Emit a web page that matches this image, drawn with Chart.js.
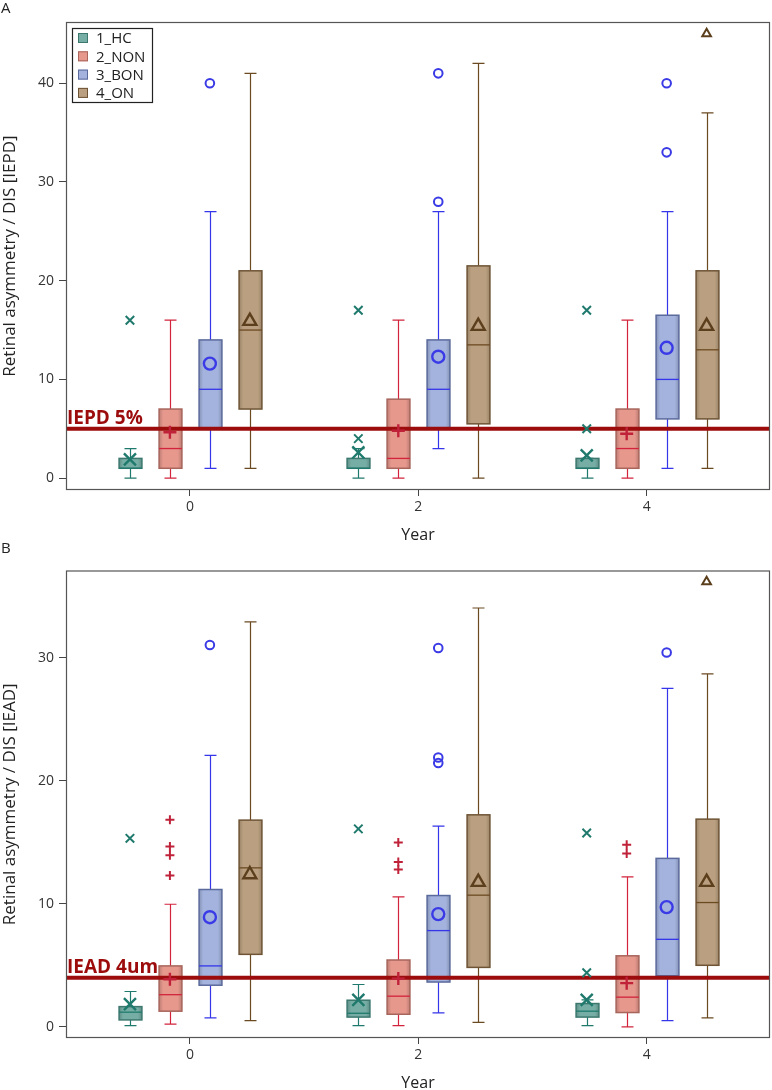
<!DOCTYPE html>
<html>
<head>
<meta charset="utf-8">
<script src="https://cdn.jsdelivr.net/npm/chart.js@4.4.1/dist/chart.umd.min.js"></script>
<style>
  body { margin: 0; background: #fff; font-family: "Open Sans", sans-serif; }
  #page { position: relative; width: 772px; height: 1090px; overflow: hidden; }
  .panel { position: absolute; left: 0; width: 772px; height: 545px; }
  .tag { position: absolute; left: 1px; font-size: 15px; color: #222; }
</style>
</head>
<body>
<div id="page">
  <div class="panel" style="top:0"><canvas id="chartA" width="772" height="545"></canvas></div>
  <div class="panel" style="top:545px"><canvas id="chartB" width="772" height="545"></canvas></div>
  <div class="tag" style="top:-3px">A</div>
  <div class="tag" style="top:537px">B</div>
</div>
<script>
const years = [0, 2, 4];
const groups = ['1_HC', '2_NON', '3_BON', '4_ON'];
const yTicksA = [0, 10, 20, 30, 40];
const yTicksB = [0, 10, 20, 30];

// Panel A - IEPD. one row per group, one value per year
const iepdLow    = [[0, 0, 0], [0, 0, 0], [1, 3, 1], [1, 0, 1]];
const iepdQ1     = [[1, 1, 1], [1, 1, 1], [5, 5, 6], [7, 5.5, 6]];
const iepdMedian = [[1, 1, 1], [3, 2, 3], [9, 9, 10], [15, 13.5, 13]];
const iepdQ3     = [[2, 2, 2], [7, 8, 7], [14, 14, 16.5], [21, 21.5, 21]];
const iepdHigh   = [[3, 3, 2], [16, 16, 16], [27, 27, 27], [41, 42, 37]];
const iepdMean   = [[1.9, 2.6, 2.3], [4.65, 4.8, 4.5], [11.6, 12.3, 13.2], [15.9, 15.4, 15.4]];
const iepdOutliers = [
  [[16], [17, 4], [17, 5]],
  [[], [], []],
  [[40], [41, 28], [40, 33]],
  [[], [], [45]]
];

// Panel B - IEAD
const ieadLow    = [[0.1, 0.1, 0.1], [0.23, 0.1, 0], [0.74, 1.14, 0.51], [0.51, 0.37, 0.74]];
const ieadQ1     = [[0.57, 0.8, 0.8], [1.28, 1.03, 1.17], [3.39, 3.65, 4.16], [5.9, 4.84, 5.01]];
const ieadMedian = [[1.2, 1.11, 1.28], [2.62, 2.5, 2.42], [4.96, 7.83, 7.12], [12.93, 10.71, 10.11]];
const ieadQ3     = [[1.65, 2.17, 1.9], [4.96, 5.44, 5.78], [11.17, 10.68, 13.7], [16.81, 17.24, 16.89]];
const ieadHigh   = [[2.88, 3.45, 2.2], [9.97, 10.57, 12.19], [22.08, 16.32, 27.52], [32.93, 34.05, 28.69]];
const ieadMean   = [[1.85, 2.2, 2.2], [3.87, 3.93, 3.56], [8.92, 9.17, 9.74], [12.39, 11.77, 11.77]];
const ieadOutliers = [
  [[15.33], [16.1], [15.76, 4.4]],
  [[16.84, 14.67, 13.96, 12.3], [14.99, 13.4, 12.8], [14.8, 14.1]],
  [[31.05], [30.8, 21.9, 21.45], [30.43]],
  [[], [], [36.18]]
];

// look
const fills = ['#76aea5', '#e6988d', '#a3b3dd', '#baa080'];
const edges = ['#3d786f', '#a7655c', '#5b6a9c', '#6e5435'];
const inks = ['#1f7a6d', '#d2243c', '#3535ea', '#6b4a22'];
const markInk = ['#1f7a6d', '#c0223a', '#3a3ae6', '#5c3f1c'];
const marker = ['crossRot', 'cross', 'circle', 'triangle'];
const meanR = [8.5, 6.5, 6, 7.5];
const outR = [6, 4.5, 4.3, 5];
const shift = [-0.525, -0.175, 0.175, 0.525];
const boxW = 0.2, capW = 0.105;

function shade(hex, f) {
  const n = parseInt(hex.slice(1), 16);
  const c = [n >> 16, (n >> 8) & 255, n & 255].map(v => Math.round(v * f));
  return `rgb(${c.join(',')})`;
}

function boxPlugin(st, ref, withLegend) {
  return {
    id: 'boxes',
    beforeDatasetsDraw(chart) {
      const { ctx, scales: { x, y }, chartArea: a } = chart;
      const unit = x.getPixelForValue(1) - x.getPixelForValue(0);
      ctx.save();
      groups.forEach((g, gi) => {
        years.forEach((yr, i) => {
          const cx = Math.round(x.getPixelForValue(yr + shift[gi])) + 0.5;
          const hw = boxW * unit / 2, cw = capW * unit / 2;
          const pl = y.getPixelForValue(st.low[gi][i]);
          const p1 = y.getPixelForValue(st.q1[gi][i]);
          const pm = y.getPixelForValue(st.med[gi][i]);
          const p3 = y.getPixelForValue(st.q3[gi][i]);
          const ph = y.getPixelForValue(st.high[gi][i]);
          ctx.strokeStyle = inks[gi];
          ctx.lineWidth = 1.2;
          ctx.beginPath();
          ctx.moveTo(cx, pl); ctx.lineTo(cx, p1);
          ctx.moveTo(cx, p3); ctx.lineTo(cx, ph);
          ctx.moveTo(cx - cw, pl); ctx.lineTo(cx + cw, pl);
          ctx.moveTo(cx - cw, ph); ctx.lineTo(cx + cw, ph);
          ctx.stroke();
          const grad = ctx.createLinearGradient(cx - hw, 0, cx + hw, 0);
          grad.addColorStop(0, shade(fills[gi], 0.82));
          grad.addColorStop(0.18, fills[gi]);
          grad.addColorStop(0.82, fills[gi]);
          grad.addColorStop(1, shade(fills[gi], 0.82));
          ctx.fillStyle = grad;
          ctx.fillRect(cx - hw, p3, hw * 2, p1 - p3);
          ctx.strokeStyle = edges[gi];
          ctx.lineWidth = 1.5;
          ctx.strokeRect(cx - hw, p3, hw * 2, p1 - p3);
          ctx.strokeStyle = inks[gi];
          ctx.lineWidth = 1.3;
          ctx.beginPath();
          ctx.moveTo(cx - hw, pm); ctx.lineTo(cx + hw, pm);
          ctx.stroke();
        });
      });
      // reference line
      const ry = y.getPixelForValue(ref.value);
      ctx.strokeStyle = '#9c0c0c';
      ctx.lineWidth = 4;
      ctx.beginPath();
      ctx.moveTo(a.left, ry); ctx.lineTo(a.right, ry);
      ctx.stroke();
      ctx.fillStyle = '#9c0c0c';
      ctx.font = 'bold 19px "Open Sans"';
      ctx.textBaseline = 'alphabetic';
      ctx.fillText(ref.label, a.left + 1, ry - 5);
      ctx.restore();
    },
    afterDraw(chart) {
      const { ctx, chartArea: a } = chart;
      ctx.save();
      ctx.strokeStyle = '#555';
      ctx.lineWidth = 1.2;
      ctx.strokeRect(a.left + 0.5, a.top + 0.5, a.width - 1, a.height - 1);
      if (withLegend) {
        const lx = a.left + 6, ly = a.top + 6;
        ctx.fillStyle = '#fff';
        ctx.fillRect(lx, ly, 81, 75);
        ctx.strokeStyle = '#222';
        ctx.lineWidth = 1.2;
        ctx.strokeRect(lx + 0.5, ly + 0.5, 80, 74);
        ctx.font = '15px "Open Sans"';
        ctx.textBaseline = 'middle';
        groups.forEach((g, gi) => {
          const ry = ly + 10 + gi * 18.3;
          ctx.fillStyle = fills[gi];
          ctx.fillRect(lx + 6, ry - 5, 10, 10);
          ctx.strokeStyle = edges[gi];
          ctx.lineWidth = 1;
          ctx.strokeRect(lx + 6.5, ry - 4.5, 9, 9);
          ctx.fillStyle = '#222';
          ctx.fillText(g, lx + 24, ry + 1);
        });
      }
      ctx.restore();
    }
  };
}

function markerSets(mean, outliers) {
  const sets = [];
  groups.forEach((g, gi) => {
    sets.push({
      label: g + ' mean',
      data: years.map((yr, i) => ({ x: yr + shift[gi], y: mean[gi][i] })),
      pointStyle: marker[gi], pointRadius: meanR[gi], borderWidth: 2.4,
      borderColor: markInk[gi], backgroundColor: 'rgba(0,0,0,0)'
    });
    const pts = [];
    years.forEach((yr, i) => outliers[gi][i].forEach(v => pts.push({ x: yr + shift[gi], y: v })));
    sets.push({
      label: g + ' outliers',
      data: pts,
      pointStyle: marker[gi], pointRadius: outR[gi], borderWidth: 2,
      borderColor: markInk[gi], backgroundColor: 'rgba(0,0,0,0)'
    });
  });
  return sets;
}

function makeChart(id, st, mean, outliers, cfg) {
  new Chart(document.getElementById(id), {
    type: 'scatter',
    data: { datasets: markerSets(mean, outliers) },
    options: {
      responsive: false,
      animation: false,
      events: [],
      layout: { autoPadding: false, padding: { top: cfg.top, right: 2, left: 0, bottom: 0 } },
      plugins: { legend: { display: false }, tooltip: { enabled: false } },
      scales: {
        x: {
          type: 'linear', min: -1.085, max: 5.08,
          afterBuildTicks: s => { s.ticks = years.map(v => ({ value: v })); },
          afterFit: s => { s.height = cfg.xh; },
          ticks: { font: { size: 14, family: 'Open Sans' }, color: '#333', padding: 3 },
          grid: { drawOnChartArea: false, tickLength: 6, color: '#444' },
          border: { display: false },
          title: { display: true, text: 'Year', color: '#222', font: { size: 16, family: 'Open Sans' },
                   padding: { top: 0, bottom: cfg.yearPad } }
        },
        y: {
          type: 'linear', min: cfg.min, max: cfg.max,
          afterBuildTicks: s => { s.ticks = cfg.ticks.map(v => ({ value: v })); },
          afterFit: s => { s.width = 66; },
          ticks: { font: { size: 14, family: 'Open Sans' }, color: '#333', padding: 5 },
          grid: { drawOnChartArea: false, tickLength: 7, color: '#444' },
          border: { display: false },
          title: { display: true, text: cfg.title, color: '#222', font: { size: 17, family: 'Open Sans' },
                   padding: 0 }
        }
      }
    },
    plugins: [boxPlugin(st, cfg.ref, cfg.legend)]
  });
}

makeChart('chartA',
  { low: iepdLow, q1: iepdQ1, med: iepdMedian, q3: iepdQ3, high: iepdHigh },
  iepdMean, iepdOutliers,
  { top: 22, xh: 55, yearPad: 0, min: -1.2, max: 46.2, ticks: yTicksA,
    title: 'Retinal asymmetry / DIS [IEPD]', ref: { value: 5, label: 'IEPD 5%' }, legend: true });

makeChart('chartB',
  { low: ieadLow, q1: ieadQ1, med: ieadMedian, q3: ieadQ3, high: ieadHigh },
  ieadMean, ieadOutliers,
  { top: 25.5, xh: 52, yearPad: -3, min: -0.9, max: 37.1, ticks: yTicksB,
    title: 'Retinal asymmetry / DIS [IEAD]', ref: { value: 4, label: 'IEAD 4um' }, legend: false });
</script>
</body>
</html>
